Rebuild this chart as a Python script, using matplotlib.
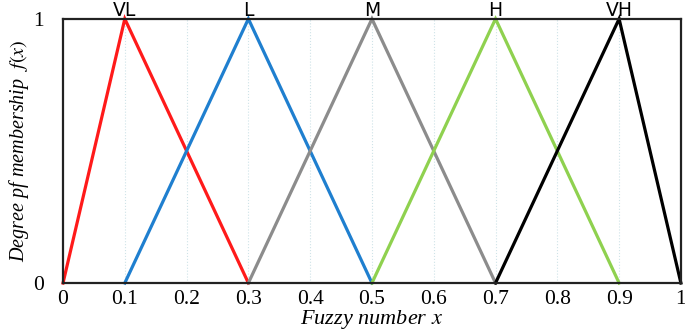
import numpy as np
import matplotlib.pyplot as plt

plt.rcParams['mathtext.fontset'] = 'stix'

# triangular fuzzy numbers (a, b, c)
names = ['VL', 'L', 'M', 'H', 'VH']
tri = [(0.0, 0.1, 0.3), (0.1, 0.3, 0.5), (0.3, 0.5, 0.7), (0.5, 0.7, 0.9), (0.7, 0.9, 1.0)]
colors = ['#ff1a1a', '#1f7fcf', '#8c8c8c', '#8fd14f', '#000000']
xticks = [0, 0.1, 0.2, 0.3, 0.4, 0.5, 0.6, 0.7, 0.8, 0.9, 1]
xticklabels = ['0', '0.1', '0.2', '0.3', '0.4', '0.5', '0.6', '0.7', '0.8', '0.9', '1']

fig = plt.figure(figsize=(6.85, 3.31), dpi=100)
ax = fig.add_axes([0.092, 0.145, 0.902, 0.798])

for x in xticks[1:-1]:
    ax.axvline(x, color='#cfe3e8', lw=0.8, ls=':', zorder=0)

for name, (a, b, c), col in zip(names, tri, colors):
    ax.plot([a, b, c], [0, 1, 0], color=col, lw=2.3, solid_joinstyle='miter', clip_on=False)
    ax.text(b, 0.995, name, ha='center', va='bottom', fontsize=13.5, family='DejaVu Sans')

ax.set_xlim(0, 1)
ax.set_ylim(0, 1)
ax.set_xticks(xticks)
ax.set_xticklabels(xticklabels, family='Liberation Serif', fontsize=15.5)
ax.set_yticks([0, 1])
ax.set_yticklabels(['0', '1'], family='Liberation Serif', fontsize=15.5)
ax.tick_params(axis='both', length=0)
ax.tick_params(axis='x', pad=5)
ax.tick_params(axis='y', pad=14)
for s in ax.spines.values():
    s.set_linewidth(1.6)
    s.set_color('#222222')

ax.set_xlabel('Fuzzy number $x$', family='Liberation Serif', style='italic', fontsize=16, labelpad=-1)
ax.set_ylabel('Degree pf membership  $f(x)$', family='Liberation Serif', style='italic', fontsize=14.5, labelpad=1)

fig.savefig('out.png', dpi=100)
